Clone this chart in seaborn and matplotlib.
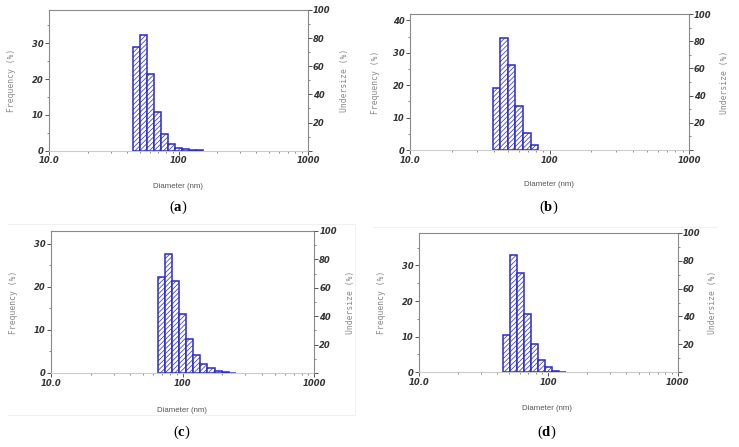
import numpy as np
import pandas as pd
import matplotlib
matplotlib.use("Agg")
import matplotlib.pyplot as plt
from matplotlib.ticker import FixedLocator, NullFormatter
import seaborn as sns

# Bin edges (nm), common log grid of the instrument
bin_edges = [39.2, 44.4, 50.3, 57.0, 64.5, 73.1, 82.8, 93.7, 106.2,
             120.2, 136.2, 154.2, 174.7, 197.8, 224.0, 253.7]

# Frequency (%) per bin; first bin index for each panel
freq_a = [29.1, 32.2, 21.3, 10.9, 4.75, 1.96, 0.65, 0.37, 0.15, 0.08]
start_a = 1
freq_b = [19.0, 34.7, 26.4, 13.7, 5.3, 1.5]
start_b = 0
freq_c = [22.3, 27.5, 21.3, 13.7, 7.9, 4.1, 2.2, 1.15, 0.55, 0.25, 0.08]
start_c = 4
freq_d = [10.6, 32.8, 27.9, 16.4, 7.9, 3.5, 1.4, 0.5, 0.15]
start_d = 1

panel_labels = ["a", "b", "c", "d"]
ylims = [39.3, 42.0, 32.9, 39.2]
x_ticks = [10, 100, 1000]
x_ticklabels = ["10.0", "100", "1000"]
right_ticks = [0, 20, 40, 60, 80, 100]
right_ticklabels = ["", "20", "40", "60", "80", "100"]

sns.set_style("white")
plt.rcParams["mathtext.fontset"] = "custom"
plt.rcParams["mathtext.bf"] = "Liberation Serif:bold"
plt.rcParams["mathtext.rm"] = "Liberation Serif"
plt.rcParams["hatch.linewidth"] = 0.5

W, H = 739, 447
fig = plt.figure(figsize=(W / 100, H / 100), dpi=100)

# axes boxes in pixels: left, top, right, bottom
boxes = [(49, 10, 308, 150.7), (410, 14, 689, 150),
         (51, 231, 314.3, 373), (419, 232.7, 677.7, 372.3)]
freq_label_x = [12, 375, 14, 381]
under_label_x = [345, 725, 351, 713]
diam_pos = [(178, 187), (549, 185), (182, 410), (547, 408)]
panel_pos = [(178, 207), (549, 207), (182, 432), (547, 432)]

series = [(freq_a, start_a), (freq_b, start_b), (freq_c, start_c), (freq_d, start_d)]
blue = "#2a2ad0"
hatch_blue = "#5a5ae0"
tick_font = dict(fontsize=6, fontweight="bold", fontstyle="italic", color="#333333")

# faint frame around panel (c) and faint line above (d)
faint = "#f1f1f1"
fig.add_artist(plt.Line2D([8 / W, 355 / W], [1 - 224 / H, 1 - 224 / H], color=faint, lw=0.8))
fig.add_artist(plt.Line2D([8 / W, 355 / W], [1 - 415 / H, 1 - 415 / H], color=faint, lw=0.8))
fig.add_artist(plt.Line2D([355 / W, 355 / W], [1 - 224 / H, 1 - 415 / H], color=faint, lw=0.8))
fig.add_artist(plt.Line2D([373 / W, 717 / W], [1 - 227 / H, 1 - 227 / H], color=faint, lw=0.8))

for i, ((freq, start), box) in enumerate(zip(series, boxes)):
    l, t, r, b = box
    ax = fig.add_axes([l / W, 1 - b / H, (r - l) / W, (b - t) / H])
    edges = bin_edges[start:start + len(freq) + 1]
    centers = [float(np.sqrt(edges[k] * edges[k + 1])) for k in range(len(freq))]
    df = pd.DataFrame({"d": centers, "f": freq})
    log_edges = [float(v) for v in np.log10(edges)]
    sns.histplot(data=df, x="d", weights="f", bins=log_edges, log_scale=True,
                 stat="count", color="white", edgecolor=blue, linewidth=1.1,
                 alpha=1, ax=ax)
    for p in ax.patches:
        p.set_hatch("///////")
        p.set_facecolor("white")
        p.set_edgecolor(blue)
        if hasattr(p, "set_hatchcolor"):
            p.set_hatchcolor(hatch_blue)
    ax.set_xlim(10, 1000)
    ax.set_ylim(0, ylims[i])
    ax.set_xlabel("")
    ax.set_ylabel("")
    ax.xaxis.set_major_locator(FixedLocator(x_ticks))
    ax.set_xticklabels(x_ticklabels, **tick_font)
    minors = [m * d for d in (10, 100) for m in range(2, 10)]
    ax.xaxis.set_minor_locator(FixedLocator(minors))
    ax.xaxis.set_minor_formatter(NullFormatter())
    ax.yaxis.set_major_locator(FixedLocator(list(range(0, int(ylims[i]) + 1, 10))))
    ax.yaxis.set_minor_locator(FixedLocator(list(range(5, int(ylims[i]) + 1, 10))))
    for lab in ax.get_yticklabels():
        lab.set_fontsize(6); lab.set_fontweight("bold"); lab.set_fontstyle("italic"); lab.set_color("#333333")
    ax.tick_params(axis="both", which="major", direction="out", length=3, width=0.7,
                   color="#555555", pad=1, bottom=True, left=True)
    ax.tick_params(axis="both", which="minor", direction="out", length=1.5, width=0.6,
                   color="#777777", bottom=True, left=True)
    for s in ["left", "top", "right"]:
        ax.spines[s].set_color("#8a8a8a")
        ax.spines[s].set_linewidth(0.8)
    ax.spines["bottom"].set_color("#cccccc")
    ax.spines["bottom"].set_linewidth(0.8)

    ax2 = ax.twinx()
    ax2.set_ylim(0, 100)
    ax2.yaxis.set_major_locator(FixedLocator(right_ticks))
    ax2.set_yticklabels(right_ticklabels, fontsize=6, fontweight="bold", fontstyle="italic", color="#333333")
    ax2.yaxis.set_minor_locator(FixedLocator([10, 30, 50, 70, 90]))
    ax2.tick_params(axis="y", which="major", direction="out", length=3, width=0.7,
                    color="#555555", pad=0.5, right=True)
    ax2.tick_params(axis="y", which="minor", direction="out", length=1.5, width=0.6,
                    color="#777777", right=True)
    for s in ax2.spines.values():
        s.set_visible(False)

    cy = 1 - (t + b) / 2 / H
    fig.text(freq_label_x[i] / W, cy, "Frequency (%)", rotation=90, ha="center", va="center",
             family="DejaVu Sans Mono", fontsize=5.8, color="#8a8a8a")
    fig.text(under_label_x[i] / W, cy, "Undersize (%)", rotation=90, ha="center", va="center",
             family="DejaVu Sans Mono", fontsize=5.8, color="#8a8a8a")
    dx, dy = diam_pos[i]
    fig.text(dx / W, 1 - dy / H, "Diameter (nm)", ha="center", va="center",
             family="Liberation Sans", fontsize=5.6, color="#555555")
    px, py = panel_pos[i]
    fig.text(px / W, 1 - py / H, "(" + r"$\mathbf{" + panel_labels[i] + "}$" + ")",
             ha="center", va="center", family="Liberation Serif", fontsize=10.5, color="black")

fig.savefig("out.png", dpi=100, facecolor="white")
